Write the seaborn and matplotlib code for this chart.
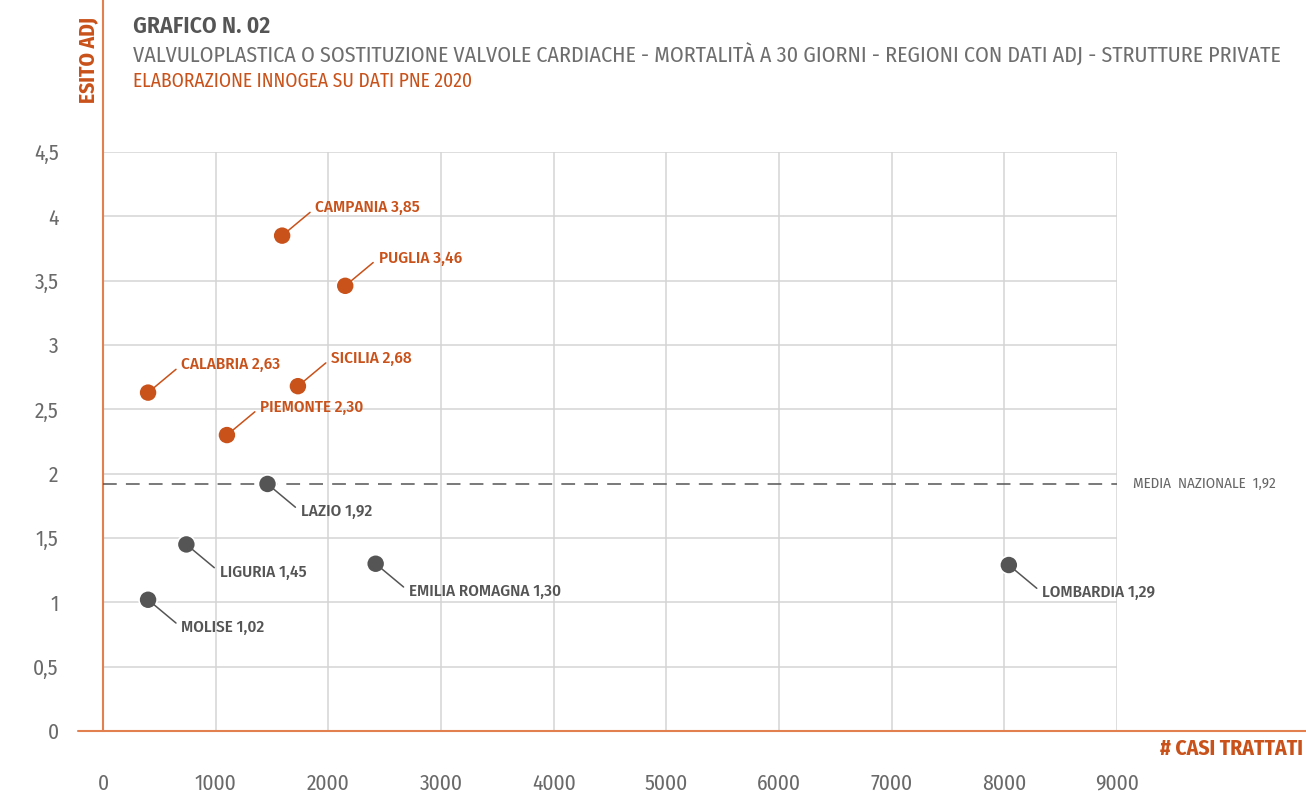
import matplotlib
matplotlib.use("Agg")
import matplotlib.pyplot as plt
import seaborn as sns
import pandas as pd

regioni = ['CAMPANIA', 'PUGLIA', 'CALABRIA', 'SICILIA', 'PIEMONTE',
           'LAZIO', 'LIGURIA', 'EMILIA ROMAGNA', 'MOLISE', 'LOMBARDIA']
casi = [1590, 2150, 400, 1730, 1100, 1460, 740, 2420, 400, 8040]
esito = [3.85, 3.46, 2.63, 2.68, 2.30, 1.92, 1.45, 1.30, 1.02, 1.29]
media_nazionale = 1.92

xticks = [0, 1000, 2000, 3000, 4000, 5000, 6000, 7000, 8000, 9000]
yticks = [0, 0.5, 1, 1.5, 2, 2.5, 3, 3.5, 4, 4.5]
ytick_labels = ['0', '0,5', '1', '1,5', '2', '2,5', '3', '3,5', '4', '4,5']

ORANGE = '#C9511A'
AXIS_OR = '#E2814F'
GREY = '#555555'

df = pd.DataFrame({'regione': regioni, 'casi': casi, 'esito': esito})
df['gruppo'] = ['sopra' if v > media_nazionale else 'sotto' for v in df['esito']]

sns.set_style('white')
plt.rcParams['font.family'] = ['Fira Sans Condensed', 'Liberation Sans', 'DejaVu Sans']

fig = plt.figure(figsize=(13.06, 7.93), dpi=100)
ax = fig.add_axes([103/1306, 62/793, 1014/1306, 579/793])

ax.set_xlim(0, 9000)
ax.set_ylim(0, 4.5)
ax.set_xticks(xticks)
ax.set_yticks(yticks)
ax.set_yticklabels(ytick_labels)
ax.grid(True, color='#d4d4d4', linewidth=1.1)
ax.set_axisbelow(True)
for s in ax.spines.values():
    s.set_visible(False)
ax.tick_params(axis='both', length=18, width=1.3, color=AXIS_OR,
               labelsize=15.5, labelcolor='#6a6a6a')
ax.tick_params(axis='y', pad=14)
ax.tick_params(axis='x', pad=12)

# assi arancioni che escono dall'area dati
ax.plot([0, 0], [0, 1.27], transform=ax.transAxes, color=AXIS_OR, lw=1.5, clip_on=False)
ax.plot([-0.025, 1.19], [0, 0], transform=ax.transAxes, color=AXIS_OR, lw=1.5, clip_on=False)

ax.axhline(media_nazionale, color=GREY, lw=1.1, dashes=(9, 6), zorder=2)
ax.text(1.016, media_nazionale, 'MEDIA  NAZIONALE  1,92', transform=ax.get_yaxis_transform(),
        fontsize=10.8, color='#666666', va='center', ha='left')

sns.scatterplot(data=df, x='casi', y='esito', hue='gruppo',
                palette={'sopra': ORANGE, 'sotto': GREY}, s=170,
                edgecolor='white', linewidth=1.2, legend=False, ax=ax, zorder=5)

for _, r in df.iterrows():
    col = ORANGE if r['gruppo'] == 'sopra' else GREY
    dy = 20 if r['gruppo'] == 'sopra' else -20
    lab = f"{r['regione']} {r['esito']:.2f}".replace('.', ',')
    ax.annotate(lab, xy=(r['casi'], r['esito']), xytext=(24, dy),
                textcoords='offset points', fontsize=12.3, color=col,
                fontweight='medium', ha='left', va='center',
                arrowprops=dict(arrowstyle='-', color=col, lw=1.1,
                                shrinkA=2, shrinkB=5, relpos=(0, 0.5)),
                zorder=6)

ax.set_xlabel('')
ax.set_ylabel('')
fig.text(1303/1306, 1 - 749/793, '# CASI TRATTATI', ha='right', va='center',
         fontsize=15.5, fontweight='bold', color=ORANGE)
fig.text(88/1306, 1 - 60/793, 'ESITO ADJ', rotation=90, ha='center', va='center',
         fontsize=15.5, fontweight='bold', color=ORANGE)

fig.text(133/1306, 1 - 26/793, 'GRAFICO N. 02', fontsize=17, fontweight='semibold',
         color=GREY, ha='left', va='center')
fig.text(133/1306, 1 - 55/793,
         'VALVULOPLASTICA O SOSTITUZIONE VALVOLE CARDIACHE - MORTALITÀ A 30 GIORNI - REGIONI CON DATI ADJ - STRUTTURE PRIVATE',
         fontsize=15.85, color='#6e6e6e', ha='left', va='center')
fig.text(133/1306, 1 - 81/793, 'ELABORAZIONE INNOGEA SU DATI PNE 2020', fontsize=14,
         color=ORANGE, ha='left', va='center')

fig.savefig('out.png', dpi=100)
